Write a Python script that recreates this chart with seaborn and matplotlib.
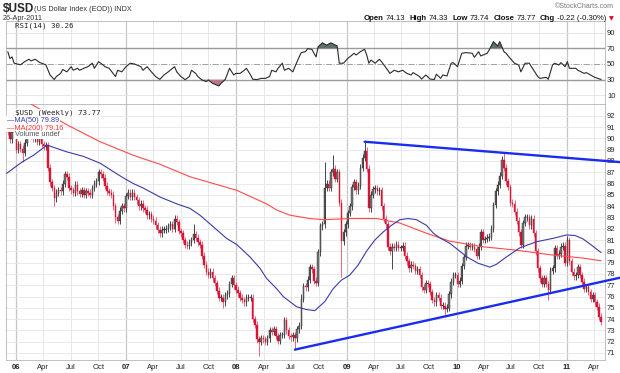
import numpy as np
import pandas as pd
import seaborn as sns
import matplotlib.pyplot as plt
import matplotlib.dates as mdates

sns.set_style("white")
plt.rcParams['font.family'] = ['Liberation Sans', 'DejaVu Sans']

# weekly closes of $USD, one value per week (weeks start Mon 2005-12-05)
close_2005 = [90.6, 89.9, 90.6, 91.1]
close_2006 = [89.0, 89.5, 89.1, 88.7, 89.6,
              90.4, 90.7, 90.2, 90.0,
              90.4, 89.7, 90.2, 89.5,
              89.3, 89.4, 87.4, 86.1,
              85.6, 84.7, 85.2, 85.4, 85.3,
              86.0, 86.8, 86.6, 85.6,
              85.4, 85.2, 85.9, 85.3, 85.1,
              85.4, 85.0, 85.3, 85.2,
              85.0, 85.6, 86.0, 86.2,
              87.0, 86.8, 86.5, 85.8, 85.3,
              85.2, 85.0, 84.0, 83.0,
              82.7, 83.6, 84.0, 83.8]
close_2007 = [84.9, 85.2, 84.8, 85.2, 84.8,
              84.5, 84.0, 84.2, 83.8,
              83.7, 83.2, 83.3, 82.9,
              82.7, 82.3, 81.9, 81.6, 81.9,
              81.9, 82.0, 82.2, 82.4,
              82.0, 82.9, 82.6, 81.8,
              81.6, 81.0, 80.6, 80.5, 80.8,
              81.0, 81.5, 81.2, 80.8,
              80.6, 79.6, 78.8, 78.2,
              77.9, 78.2, 77.6, 77.2, 76.5,
              75.9, 75.9, 75.5, 76.1,
              76.3, 77.1, 77.6, 77.0, 76.6]
close_2008 = [76.3, 75.9, 75.7, 75.5,
              75.9, 75.9, 75.9, 74.0,
              73.5, 72.2, 72.0, 72.3, 72.2,
              72.0, 72.3, 73.0, 72.9,
              73.1, 72.5, 72.1, 72.6,
              72.6, 73.9, 73.0, 72.5, 72.4,
              72.6, 72.3, 73.1, 73.4,
              75.8, 76.9, 76.8, 77.5,
              78.6, 78.4, 77.4, 77.2, 79.9,
              82.2, 82.4, 85.6, 86.0,
              85.6, 87.0, 87.3, 86.4,
              87.0, 84.3, 80.9, 81.7, 82.4]
close_2009 = [83.4, 84.0, 85.7, 86.1,
              85.4, 85.8, 87.4, 88.3,
              88.9, 87.3, 83.8, 85.0, 85.5,
              85.6, 85.3, 85.4, 84.0,
              82.9, 82.4, 80.4, 80.0,
              80.4, 80.3, 80.6, 80.3, 80.3,
              80.5, 79.6, 79.1, 78.5,
              78.8, 78.7, 78.3, 78.4, 77.9,
              76.8, 76.6, 77.2, 77.1,
              76.4, 75.7, 75.5, 76.1,
              75.9, 75.2, 75.2, 74.9, 75.0,
              76.2, 77.3, 77.9, 77.9]
close_2010 = [77.1, 77.4, 78.7, 79.5,
              80.5, 80.5, 80.4, 80.4,
              80.2, 79.6, 80.4, 81.7, 81.0,
              81.1, 81.2, 81.3, 82.0,
              84.1, 85.3, 85.9, 86.7, 88.1,
              87.4, 86.2, 85.7, 84.3,
              84.2, 83.5, 82.7, 81.7,
              80.6, 82.5, 83.0, 83.0, 82.3,
              82.9, 81.6, 80.0, 78.5,
              77.6, 77.1, 77.6, 77.1,
              76.6, 78.3, 78.5, 80.3, 79.6,
              79.8, 80.4, 80.5, 79.0]
close_2011 = [81.0, 79.1, 78.2, 77.8, 77.9,
              78.6, 77.9, 77.3, 76.7,
              76.8, 76.4, 75.8, 76.1,
              75.5, 75.1, 74.2, 73.77]
first_open = 90.9

# long wicks
wick_hi_dates = ['2007-08-13', '2008-06-09', '2008-08-04', '2008-10-20', '2008-11-17',
                 '2009-03-02', '2010-06-07', '2011-01-03']
wick_hi_vals = [82.4, 74.2, 76.2, 87.9, 88.5, 89.7, 88.7, 81.4]
wick_lo_dates = ['2006-01-23', '2006-05-08', '2006-11-27', '2007-11-19', '2008-03-17',
                 '2008-07-14', '2008-12-15', '2009-06-01', '2009-11-23', '2010-11-01']
wick_lo_vals = [87.9, 84.0, 82.5, 75.0, 70.7, 71.3, 77.7, 78.4, 74.2, 75.7]

# moving averages
ma50_dates = ['2005-12-01', '2005-12-24', '2006-01-21', '2006-02-28', '2006-04-14', '2006-05-17',
              '2006-06-19', '2006-08-13', '2006-10-07', '2006-11-20', '2006-12-23', '2007-01-25',
              '2007-02-27', '2007-04-24', '2007-06-18', '2007-08-01', '2007-09-03', '2007-10-29',
              '2007-11-30', '2008-01-03', '2008-02-16', '2008-03-20', '2008-04-11', '2008-05-14',
              '2008-06-05', '2008-07-19', '2008-08-20', '2008-09-18', '2008-10-21', '2008-11-18',
              '2008-12-15', '2009-01-12', '2009-02-09', '2009-03-08', '2009-04-05', '2009-05-02',
              '2009-05-30', '2009-06-27', '2009-07-24', '2009-08-21', '2009-09-23', '2009-10-16',
              '2009-11-06', '2009-12-10', '2010-01-12', '2010-02-04', '2010-03-13', '2010-04-21',
              '2010-05-13', '2010-06-15', '2010-07-29', '2010-09-23', '2010-11-17', '2011-01-01',
              '2011-01-29', '2011-02-24', '2011-03-24', '2011-04-25']
ma50_vals = [86.9, 87.35, 87.9, 88.5, 89.4, 89.1,
             88.8, 88.4, 87.8, 87.05, 86.5, 86.0,
             85.6, 84.8, 84.2, 83.8, 83.2, 81.9,
             81.15, 80.6, 79.5, 78.5, 77.6, 76.7,
             76.0, 75.1, 74.85, 74.75, 75.55, 76.7,
             77.45, 77.9, 78.8, 80.0, 81.0, 81.7,
             82.3, 82.8, 82.9, 82.8, 82.3, 81.6,
             81.2, 80.7, 80.0, 79.5, 78.95, 78.6,
             78.85, 79.5, 80.3, 80.85, 81.15, 81.45,
             81.4, 81.1, 80.55, 79.89]
ma200_dates = ['2005-12-01', '2006-03-17', '2006-06-19', '2006-10-07', '2007-01-25', '2007-04-24',
               '2007-08-01', '2008-01-03', '2008-04-11', '2008-05-15', '2008-06-27', '2008-09-01',
               '2008-10-16', '2009-01-12', '2009-04-11', '2009-06-27', '2009-09-23', '2009-12-09',
               '2010-03-30', '2010-07-19', '2010-11-06', '2011-02-24', '2011-04-25']
ma200_vals = [94.3, 92.65, 91.2, 89.7, 88.5, 87.7,
              86.6, 85.4, 84.2, 83.65, 83.2, 82.9,
              82.8, 82.9, 82.9, 82.5, 81.6, 80.9,
              80.4, 80.1, 79.7, 79.4, 79.16]

# RSI(14): week number -> value
rsi_week = [0, 1, 2, 3, 6, 8, 10, 11, 13, 15,
            16, 18, 20, 22, 23, 25, 26, 28, 30, 31,
            33, 34, 36, 38, 40, 41, 43, 45, 46, 48,
            51, 52, 54, 56, 58, 60, 63, 64, 66, 68,
            70, 72, 74, 76, 79, 80, 82, 84, 86, 87,
            89, 90, 92, 94, 95, 97, 100, 101, 103, 105,
            107, 108, 110, 112, 113, 115, 116, 118, 120, 122,
            124, 125, 127, 128, 130, 131, 133, 135, 136, 138,
            139, 141, 142, 144, 146, 147, 149, 151, 153, 156,
            157, 159, 161, 164, 165, 167, 169, 170, 171, 172,
            174, 176, 177, 180, 181, 183, 185, 187, 189, 191,
            192, 195, 196, 198, 200, 202, 203, 205, 206, 208,
            210, 211, 213, 215, 217, 220, 221, 223, 224, 227,
            228, 230, 232, 233, 235, 236, 238, 240, 242, 243,
            245, 247, 248, 251, 252, 255, 256, 258, 259, 261,
            262, 264, 265, 266, 269, 270, 273, 274, 276, 278, 281]
rsi_val = [65.7, 57, 59, 51, 49, 53, 56, 54, 56, 52,
           51, 49, 36, 30.2, 34, 38, 43, 40, 46.6, 42,
           44.5, 42, 44.5, 46.6, 51, 44.5, 53, 49, 46.6, 44.5,
           34, 42, 40, 46.6, 51, 50, 46.6, 42, 46.6, 40,
           34, 30.4, 36, 40, 46.6, 40, 34, 30.0, 34, 42,
           38, 34, 29.6, 27.5, 29.6, 25.3, 22, 25.3, 30.4, 44.5,
           36, 38, 38, 42, 44.5, 36, 30.6, 30.1, 31.7, 31.7,
           34, 42, 40, 44.5, 51, 42, 44.5, 40, 46.6, 59,
           64.5, 65.7, 69.5, 68.7, 59, 72, 77, 74, 77, 73,
           51, 51, 57, 63.6, 61.5, 65.7, 68.7, 61.5, 51, 55,
           51, 56, 53, 42, 38, 42, 40, 42, 38, 36,
           39, 34, 30.8, 36, 30.8, 30.2, 37, 31.7, 36, 34.7,
           51, 51.7, 46.6, 63.6, 64.5, 63.6, 58.5, 65.7, 60.2, 63.6,
           67.9, 78.5, 73, 78.5, 65.7, 63.6, 57, 51, 48.7, 40,
           51, 51, 46.6, 34, 31.7, 33, 30.6, 48.7, 51, 48.7,
           51.7, 46.6, 53, 44.5, 44.5, 42, 38, 39, 36, 33, 30.26]

# hand drawn trendlines
trend_hi_dates = ['2009-03-02', '2011-06-26']
trend_hi_vals = [89.7, 87.9]
trend_lo_dates = ['2008-07-14', '2011-06-26']
trend_lo_vals = [71.3, 77.66]

quarter_labels = ['06', 'Apr', 'Jul', 'Oct', '07', 'Apr', 'Jul', 'Oct', '08', 'Apr', 'Jul', 'Oct',
                  '09', 'Apr', 'Jul', 'Oct', '10', 'Apr', 'Jul', 'Oct', '11', 'Apr']
price_ticks = list(range(71, 93))
rsi_ticks = [10, 30, 50, 70, 90]

# build the candle table
close = close_2005 + close_2006 + close_2007 + close_2008 + close_2009 + close_2010 + close_2011
weeks = pd.date_range('2005-12-05', periods=len(close), freq='W-MON')
df = pd.DataFrame({'date': weeks, 'close': close})
df['open'] = [first_open] + close[:-1]
df['top'] = df[['open', 'close']].max(axis=1)
df['bot'] = df[['open', 'close']].min(axis=1)
df['high'] = df['top'] + 0.3
df['low'] = df['bot'] - 0.3
for d, v in zip(pd.to_datetime(wick_hi_dates), wick_hi_vals):
    df.loc[df.date == d, 'high'] = v
for d, v in zip(pd.to_datetime(wick_lo_dates), wick_lo_vals):
    df.loc[df.date == d, 'low'] = v
up = (df.close >= df.open).values

fig = plt.figure(figsize=(6.2, 3.73), dpi=100)
L, W = 6 / 620, 599 / 620
ax_r = fig.add_axes([L, 1 - 104 / 373, W, 83 / 373])
ax_p = fig.add_axes([L, 1 - 360 / 373, W, 256 / 373])
x0, x1 = pd.Timestamp('2005-11-29'), pd.Timestamp('2011-05-08')

# grid
quarters = pd.date_range('2006-01-01', '2011-04-01', freq='QS')
for ax in (ax_r, ax_p):
    for q in quarters:
        yr = q.month == 1
        ax.axvline(q, color='#c6c6c6' if yr else '#e3e3e3', lw=0.9 if yr else 0.6, zorder=0)
for p in price_ticks:
    ax_p.axhline(p, color='#e6e6e6', lw=0.6, zorder=0)

# candles
ax_p.vlines(df.date, df.low, df.high, colors=np.where(up, '#2a2a2a', '#e2506c'), lw=0.6, zorder=2)
ax_p.bar(df.date, (df.top - df.bot).clip(lower=0.08), bottom=df.bot, width=4.8,
         color=np.where(up, '#7a7a7a', '#dc1434'), edgecolor=np.where(up, '#1e1e1e', '#dc1434'),
         linewidth=0.3, zorder=3)

# moving averages and trendlines
sns.lineplot(x=pd.to_datetime(ma200_dates), y=ma200_vals, ax=ax_p, color='#ff4a4a', lw=0.8, zorder=4)
sns.lineplot(x=pd.to_datetime(ma50_dates), y=ma50_vals, ax=ax_p, color='#3b3bab', lw=0.8, zorder=4)
for d, v in ((trend_hi_dates, trend_hi_vals), (trend_lo_dates, trend_lo_vals)):
    ax_p.plot(pd.to_datetime(d), v, color='#1a2cf0', lw=1.7, clip_on=False, zorder=5)

# RSI panel
for lvl in (10, 90):
    ax_r.axhline(lvl, color='#e3e3e3', lw=0.6, zorder=0)
ax_r.axhline(70, color='#9a9a9a', lw=1.0, zorder=1)
ax_r.axhline(30, color='#9a9a9a', lw=1.0, zorder=1)
ax_r.axhline(50, color='#a0a0a0', lw=0.7, ls='-.', zorder=1)
rsi_dates = weeks[rsi_week]
xr = mdates.date2num(rsi_dates)
vr = np.array(rsi_val)
ax_r.fill_between(xr, vr, 70, where=vr >= 70, interpolate=True, color='#5f6e66', lw=0, zorder=2)
ax_r.fill_between(xr, vr, 30, where=vr <= 30, interpolate=True, color='#b77a86', lw=0, zorder=2)
sns.lineplot(x=rsi_dates, y=rsi_val, ax=ax_r, color='#2a2a2a', lw=0.8, zorder=3)

# axes styling
for ax in (ax_r, ax_p):
    ax.set_xlim(x0, x1)
    ax.yaxis.tick_right()
    ax.tick_params(axis='y', length=0, labelsize=5.5, pad=1.5, colors='#222222')
    for s in ax.spines.values():
        s.set_color('#b5b5b5')
        s.set_linewidth(0.6)
    ax.set_xlabel('')
    ax.set_ylabel('')
ax_r.set_ylim(-1, 104.8)
ax_r.set_yticks(rsi_ticks)
ax_r.set_xticks([])
ax_p.set_ylim(70.38, 93.04)
ax_p.set_yticks(price_ticks)
ax_p.set_xticks(quarters)
ax_p.set_xticklabels(quarter_labels)
ax_p.tick_params(axis='x', length=0, labelsize=5.5, pad=3, colors='#222222')
for t, q in zip(ax_p.get_xticklabels(), quarters):
    if q.month == 1:
        t.set_fontweight('bold')


def fx(px):
    return px / 620


def fy(py):
    return 1 - py / 373


# header
fig.text(fx(3), fy(9), '$USD', fontsize=8.5, fontweight='bold', va='center')
fig.text(fx(34), fy(9.5), '(US Dollar Index (EOD)) INDX', fontsize=5.2, va='center', color='#333333')
fig.text(fx(3), fy(18.5), '26-Apr-2011', fontsize=5.2, va='center', color='#333333')
fig.text(fx(614), fy(7), '\u00a9StockCharts.com', fontsize=5, ha='right', va='center', color='#777777')

parts = [('Open', 'bold', 4), ('74.13', 'normal', 1.5), ('High', 'bold', 3), ('74.33', 'normal', 1.5),
         ('Low', 'bold', 3), ('73.74', 'normal', 1.5), ('Close', 'bold', 3), ('73.77', 'normal', 1.5),
         ('Chg', 'bold', 3), ('-0.22 (-0.30%)', 'normal', 1.5)]
prev = fig.text(fx(614), fy(19), '\u25bc', fontsize=4.5, ha='right', va='center', color='#e00020',
                family='DejaVu Sans')
gap = 2
for s, w, g in parts[::-1]:
    prev = ax_r.annotate(s, xy=(0, 0.5), xycoords=prev, xytext=(-gap, 0), textcoords='offset points',
                         ha='right', va='center', fontsize=5.6, fontweight=w, color='#111111',
                         annotation_clip=False)
    gap = g

# panel legends
mono = 'DejaVu Sans Mono'
fig.text(fx(15), fy(25.5), 'RSI(14) 30.26', fontsize=5.4, family=mono, va='center', color='#222222')
box = dict(facecolor='white', edgecolor='none', pad=0.4)
fig.text(fx(15), fy(113), '$USD (Weekly) 73.77', fontsize=5.4, family=mono, va='center',
         color='#222222', bbox=box, zorder=6)
fig.text(fx(7), fy(120.5), '\u2014MA(50) 79.89', fontsize=5.3, va='center', color='#3b3bab',
         bbox=box, zorder=6)
fig.text(fx(7), fy(128), '\u2014MA(200) 79.16', fontsize=5.3, va='center', color='#ff3030',
         bbox=box, zorder=6)
fig.text(fx(15), fy(135), 'Volume undef', fontsize=5.3, va='center', color='#555555',
         bbox=box, zorder=6)

fig.savefig('out.png', dpi=100)
